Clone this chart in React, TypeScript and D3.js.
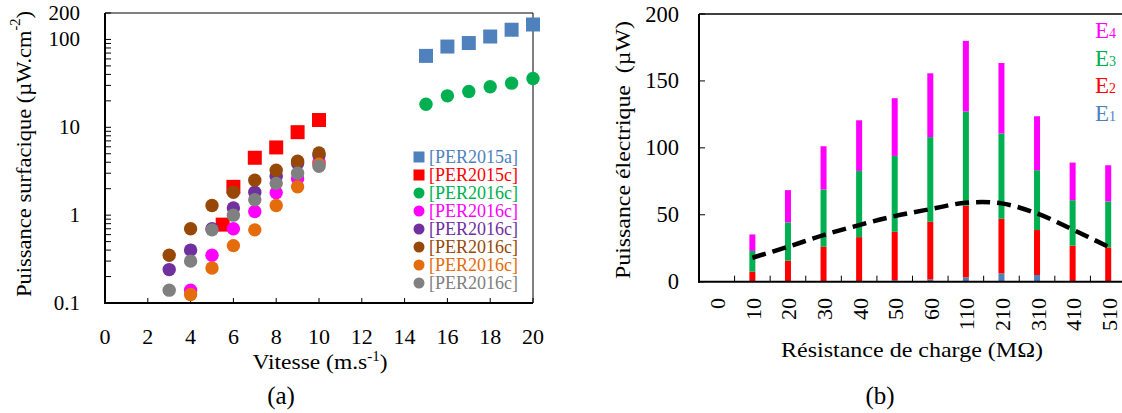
import React from "react";
import * as d3 from "d3";

// ---------- Chart (a) data ----------
const seriesNames = ["[PER2015a]", "[PER2015c]", "[PER2016c]", "[PER2016c]", "[PER2016c]", "[PER2016c]", "[PER2016c]", "[PER2016c]"];
const seriesColors = ["#4F81BD", "#FF0000", "#00B050", "#FF00FF", "#7030A0", "#974806", "#E46C0A", "#808080"];
const seriesShapes = ["square", "square", "circle", "circle", "circle", "circle", "circle", "circle"];

const per2015aX = [15, 16, 17, 18, 19, 20];
const per2015aY = [65, 83, 91, 108, 129, 148];
const per2015cX = [5.5, 6, 7, 8, 9, 10];
const per2015cY = [0.78, 2.1, 4.5, 5.9, 8.8, 12.1];
const greenX = [15, 16, 17, 18, 19, 20];
const greenY = [18.3, 22.8, 25.6, 28.9, 31.8, 36];
const magentaX = [4, 5, 6, 7, 8, 9, 10];
const magentaY = [0.14, 0.35, 0.7, 1.1, 1.8, 2.6, 4.0];
const purpleX = [3, 4, 5, 6, 7, 8, 9, 10];
const purpleY = [0.24, 0.4, 0.7, 1.21, 1.82, 2.77, 3.9, 4.8];
const brownX = [3, 4, 5, 6, 7, 8, 9, 10];
const brownY = [0.35, 0.7, 1.29, 1.82, 2.5, 3.25, 4.1, 5.1];
const orangeX = [4, 5, 6, 7, 8, 9, 10];
const orangeY = [0.125, 0.25, 0.45, 0.68, 1.29, 2.1, 3.8];
const grayX = [3, 4, 5, 6, 7, 8, 9, 10];
const grayY = [0.14, 0.3, 0.68, 1.0, 1.5, 2.3, 3.0, 3.6];

const seriesXs = [per2015aX, per2015cX, greenX, magentaX, purpleX, brownX, orangeX, grayX];
const seriesYs = [per2015aY, per2015cY, greenY, magentaY, purpleY, brownY, orangeY, grayY];

const xTicksA = [0, 2, 4, 6, 8, 10, 12, 14, 16, 18, 20];
const yTickLabelsA = [0.1, 1, 10, 100, 200];

// ---------- Chart (b) data ----------
const categories = ["0", "10", "20", "30", "40", "50", "60", "110", "210", "310", "410", "510"];
const E1 = [0, 0, 0, 0, 0, 1.2, 1.7, 3.2, 6.2, 5, 0.5, 0];
const E2 = [0, 7.5, 15.7, 26.1, 33.3, 36.1, 43.1, 53.5, 40.8, 33.6, 26.4, 25.6];
const E3 = [0, 15.5, 28.6, 42.8, 49.5, 56.7, 63.2, 70.4, 63.7, 44.7, 34, 34.4];
const E4 = [0, 12.3, 24.1, 32.3, 37.8, 43.1, 47.7, 52.8, 52.7, 40.3, 28.1, 27];
const curveValues = [null, 17.9, 26.1, 34.8, 42.3, 49, 54.2, 59, 58.5, 51, 39, 26.1];
const yTicksB = [0, 50, 100, 150, 200];
const energyKeys = ["E1", "E2", "E3", "E4"];
const energyColors = ["#4F81BD", "#FF0000", "#00B050", "#FF00FF"];

const FONT = "'Liberation Serif', 'Times New Roman', serif";

export default function App() {
  // ----- (a) scales -----
  const xA = d3.scaleLinear().domain([0, 20]).range([105, 533]);
  const yA = d3.scaleLog().domain([0.1, 200]).range([303, 13]);
  const minorA: number[] = [];
  [0.1, 1, 10, 100].forEach((d) => {
    for (let k = 1; k <= 9; k++) {
      const v = d * k;
      if (v <= 200) minorA.push(v);
    }
  });

  // ----- (b) scales -----
  const xB = d3.scaleBand().domain(categories).range([699, 1126]).padding(0);
  const yB = d3.scaleLinear().domain([0, 200]).range([281.7, 14]);
  const table = categories.map((c, i) => ({ cat: c, E1: E1[i], E2: E2[i], E3: E3[i], E4: E4[i] }));
  const stacked = d3.stack<any>().keys(energyKeys)(table);
  const barW = 6;
  const curvePts = categories
    .map((c, i) => ({ c, v: curveValues[i] }))
    .filter((d) => d.v !== null) as { c: string; v: number }[];
  const line = d3
    .line<{ c: string; v: number }>()
    .x((d) => (xB(d.c) as number) + xB.bandwidth() / 2)
    .y((d) => yB(d.v))
    .curve(d3.curveCatmullRom.alpha(0.5));

  return (
    <svg width={1122} height={413} style={{ position: "absolute", left: 0, top: 0, background: "#fff" }} fontFamily={FONT}>
      <rect x={0} y={0} width={1122} height={413} fill="#fff" />
      {/* ================= Chart (a) ================= */}
      <g>
        <line x1={xA(0)} x2={xA(20)} y1={yA(200)} y2={yA(200)} stroke="#000" strokeWidth={1} />
        <line x1={xA(20)} x2={xA(20)} y1={yA(200)} y2={yA(0.1)} stroke="#000" strokeWidth={1} />
        {minorA.map((v, i) => (
          <line key={"ym" + i} x1={xA(0)} x2={xA(0) + 6} y1={yA(v)} y2={yA(v)} stroke="#000" strokeWidth={1} />
        ))}
        {xTicksA.map((t) => (
          <line key={"xt" + t} x1={xA(t)} x2={xA(t)} y1={yA(0.1)} y2={yA(0.1) - 5} stroke="#000" strokeWidth={1} />
        ))}
        <line x1={xA(0)} x2={xA(0)} y1={yA(200)} y2={yA(0.1) + 1} stroke="#000" strokeWidth={2} />
        <line x1={xA(0) - 1} x2={xA(20)} y1={yA(0.1)} y2={yA(0.1)} stroke="#000" strokeWidth={2} />
        {yTickLabelsA.map((t) => (
          <text key={"yl" + t} x={80} y={yA(t)} fontSize={21} textAnchor="end" dominantBaseline="central">
            {String(t)}
          </text>
        ))}
        {xTicksA.map((t) => (
          <text key={"xl" + t} x={xA(t)} y={344} fontSize={22} textAnchor="middle">
            {t}
          </text>
        ))}
        <text transform="translate(23,154) rotate(-90)" fontSize={22} textAnchor="middle" dominantBaseline="central" textLength={286} lengthAdjust="spacingAndGlyphs">
          Puissance surfacique (µW.cm
          <tspan fontSize={14} dy={-8}>-2</tspan>
          <tspan dy={8}>)</tspan>
        </text>
        <text x={320} y={369} fontSize={22} textAnchor="middle" textLength={135} lengthAdjust="spacingAndGlyphs">
          Vitesse (m.s<tspan fontSize={14} dy={-8}>-1</tspan>
          <tspan dy={8}>)</tspan>
        </text>
        <text x={281} y={404} fontSize={25} textAnchor="middle">(a)</text>
        {seriesXs.map((xs, si) =>
          xs.map((xv, i) => {
            const cx = xA(xv);
            const cy = yA(seriesYs[si][i]);
            return seriesShapes[si] === "square" ? (
              <rect key={"p" + si + "-" + i} x={cx - 7} y={cy - 7} width={14} height={14} fill={seriesColors[si]} />
            ) : (
              <circle key={"p" + si + "-" + i} cx={cx} cy={cy} r={6.7} fill={seriesColors[si]} />
            );
          })
        )}
        {seriesNames.map((n, i) => {
          const cy = 157 + i * 18;
          return (
            <g key={"lg" + i}>
              {seriesShapes[i] === "square" ? (
                <rect x={419 - 5.5} y={cy - 5.5} width={11} height={11} fill={seriesColors[i]} />
              ) : (
                <circle cx={419} cy={cy} r={5.5} fill={seriesColors[i]} />
              )}
              <text x={429} y={cy} fontSize={18} fill={seriesColors[i]} dominantBaseline="central">
                {n}
              </text>
            </g>
          );
        })}
      </g>

      {/* ================= Chart (b) ================= */}
      <g>
        <line x1={699} x2={1126} y1={yB(200)} y2={yB(200)} stroke="#000" strokeWidth={1.5} />
        {yTicksB.map((t) => (
          <line key={"ybt" + t} x1={699} x2={705} y1={yB(t)} y2={yB(t)} stroke="#000" strokeWidth={1} />
        ))}
        {yTicksB.map((t) => (
          <text key={"ybl" + t} x={679} y={yB(t)} fontSize={22.5} textAnchor="end" dominantBaseline="central">
            {t}
          </text>
        ))}
        {categories.map((c) => (
          <line key={"xbt" + c} x1={(xB(c) as number) + xB.bandwidth()} x2={(xB(c) as number) + xB.bandwidth()} y1={yB(0)} y2={yB(0) - 6} stroke="#000" strokeWidth={1} />
        ))}
        {stacked.map((layer, li) =>
          layer.map((seg, i) => {
            const h = yB(seg[0]) - yB(seg[1]);
            if (h <= 0) return null;
            const cx = (xB(categories[i]) as number) + xB.bandwidth() / 2;
            return <rect key={"b" + li + "-" + i} x={cx - barW / 2} y={yB(seg[1])} width={barW} height={h} fill={energyColors[li]} />;
          })
        )}
        <path d={line(curvePts) || ""} fill="none" stroke="#000" strokeWidth={4.5} strokeDasharray="14,7" />
        <line x1={699} x2={699} y1={yB(200)} y2={yB(0) + 1} stroke="#000" strokeWidth={2} />
        <line x1={698} x2={1126} y1={yB(0)} y2={yB(0)} stroke="#000" strokeWidth={2} />
        {categories.map((c) => {
          const cx = (xB(c) as number) + xB.bandwidth() / 2;
          return (
            <text key={"xbl" + c} transform={`translate(${cx + 1},298) rotate(-90)`} fontSize={22} textAnchor="end" dominantBaseline="central">
              {c}
            </text>
          );
        })}
        <text transform="translate(622,150) rotate(-90)" fontSize={22} textAnchor="middle" dominantBaseline="central" style={{ whiteSpace: "pre" }} textLength={258} lengthAdjust="spacingAndGlyphs">
          {"Puissance électrique  (µW)"}
        </text>
        <text x={912} y={357} fontSize={22} textAnchor="middle" textLength={262} lengthAdjust="spacingAndGlyphs">
          Résistance de charge (MΩ)
        </text>
        <text x={880} y={404} fontSize={25} textAnchor="middle">(b)</text>
        {[3, 2, 1, 0].map((k, i) => (
          <text key={"el" + k} x={1095} y={38 + i * 27.7} fontSize={23} fill={energyColors[k]}>
            E<tspan fontSize={14}>{k + 1}</tspan>
          </text>
        ))}
      </g>
    </svg>
  );
}
